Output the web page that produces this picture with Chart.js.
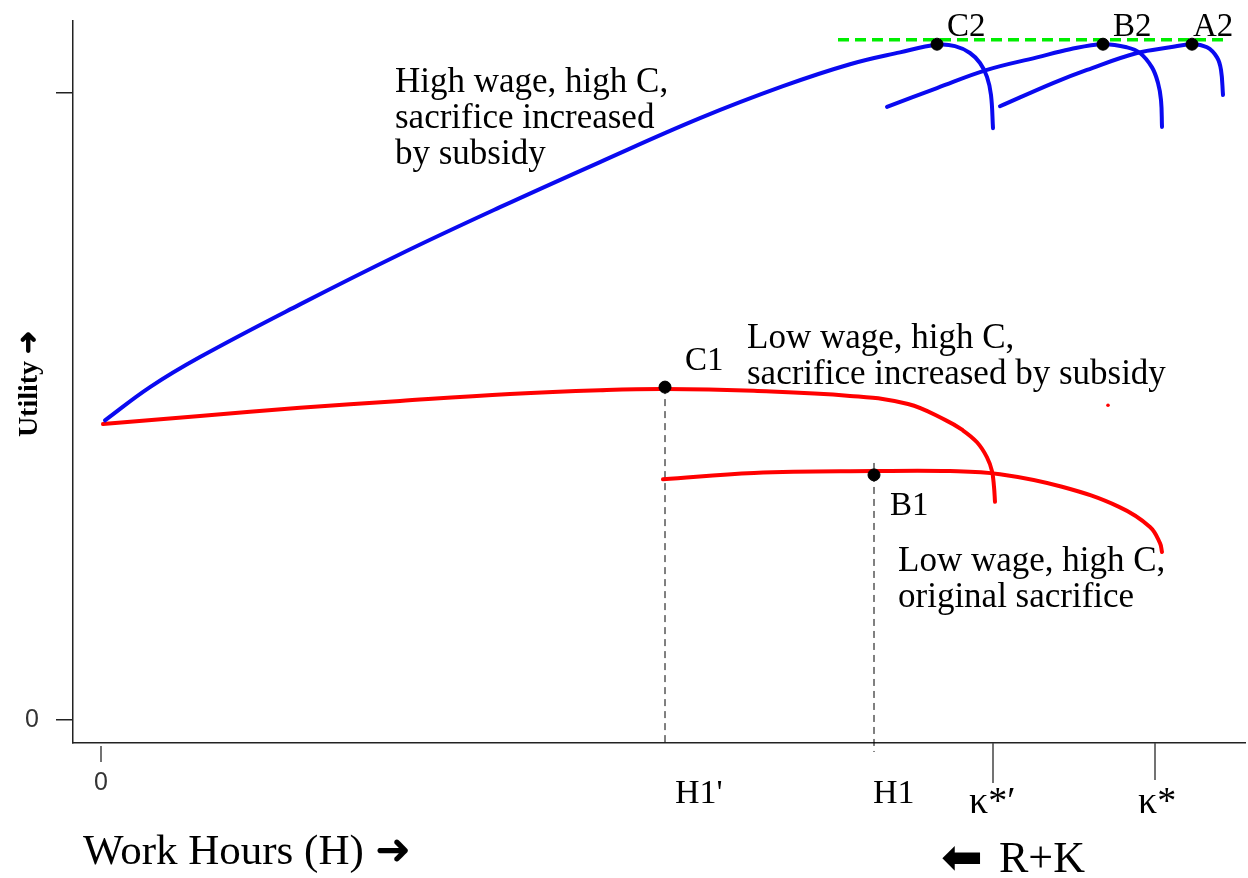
<!DOCTYPE html>
<html>
<head>
<meta charset="utf-8">
<script src="https://cdn.jsdelivr.net/npm/chart.js@4.4.1/dist/chart.umd.min.js"></script>
<style>
  html, body { margin: 0; padding: 0; background: #fff; }
</style>
</head>
<body>
<canvas id="chart" width="1248" height="878"></canvas>
<script>
// x = work hours, y = utility
const highC_x = [0.4, 4.9, 9.9, 19.9, 29.9, 39.9, 49.9, 59.9, 68.2, 74.9, 79.9, 83.6, 85.4, 86.9, 87.9, 88.6, 89.0, 89.2];
const highC_y = [47.8, 53.1, 57.9, 66.3, 74.3, 81.8, 89.0, 96.0, 101.1, 104.6, 106.5, 107.7, 107.5, 106.4, 104.8, 102.6, 99.7, 94.4];

const highB_x = [78.6, 83.6, 88.6, 93.6, 96.9, 100.2, 102.6, 103.9, 105.1, 105.7, 106.0, 106.1];
const highB_y = [97.8, 100.8, 103.7, 105.7, 107.0, 107.8, 107.3, 106.4, 104.1, 101.6, 98.9, 94.6];

const highA_x = [89.9, 95.2, 98.6, 103.6, 106.9, 109.1, 110.6, 111.6, 112.0, 112.2];
const highA_y = [97.9, 101.6, 103.7, 106.4, 107.3, 107.8, 107.3, 105.7, 103.7, 99.7];

const lowC_x = [0.2, 9.9, 19.9, 29.9, 40.9, 49.9, 56.4, 65.3, 74.9, 80.7, 84.5, 86.1, 87.6, 88.6, 89.1, 89.3, 89.4];
const lowC_y = [47.2, 48.5, 49.8, 50.9, 52.0, 52.6, 52.8, 52.5, 51.7, 50.4, 47.8, 46.3, 44.3, 41.9, 39.7, 37.2, 34.8];

const lowB_x = [56.2, 65.3, 77.3, 84.9, 89.9, 96.1, 101.8, 104.9, 105.9, 106.1];
const lowB_y = [38.4, 39.4, 39.7, 39.7, 39.2, 37.2, 34.0, 30.8, 28.2, 26.8];

const optimaLabels = ["C2", "B2", "A2", "C1", "B1"];
const optima_x = [83.6, 100.2, 109.1, 56.4, 77.3];
const optima_y = [107.8, 107.8, 107.8, 53.1, 39.1];

const topUtility_x = [73.7, 112.4];
const topUtility_y = [108.5, 108.5];

const xTickLabels = ["0", "H1'", "H1", "κ*′", "κ*"];
const xTickValues = [0, 56.4, 77.3, 89.2, 105.4];
const yTickLabels = ["0", ""];
const yTickValues = [0, 100];

const toPoints = (xs, ys) => xs.map((x, i) => ({ x: x, y: ys[i] }));

const serif = "'Liberation Serif', 'Times New Roman', serif";
const sans = "'Liberation Sans', Arial, sans-serif";

// text labels and custom x ticks
const labelPlugin = {
    id: 'labels',
    afterDraw(chart) {
        const ctx = chart.ctx;
        const xs = chart.scales.x, ys = chart.scales.y;
        const px = v => xs.getPixelForValue(v);
        const py = v => ys.getPixelForValue(v);
        ctx.save();
        ctx.fillStyle = '#000';
        ctx.textBaseline = 'alphabetic';

        // x ticks
        ctx.strokeStyle = '#444';
        ctx.lineWidth = 1.5;
        const bottom = chart.chartArea.bottom;
        const tickSpans = [[3, 19], null, null, [0, 40], [0, 37]];
        const labelOffsets = [[0, 47], [10, 60], [-1, 60], [-24, 70], [-17, 70]];
        xTickValues.forEach((v, i) => {
            const x = px(v);
            if (tickSpans[i]) {
                ctx.beginPath();
                ctx.moveTo(x, bottom + tickSpans[i][0]);
                ctx.lineTo(x, bottom + tickSpans[i][1]);
                ctx.stroke();
            }
            if (i === 0) {
                ctx.font = '25px ' + sans;
                ctx.textAlign = 'center';
                ctx.fillStyle = '#333';
            } else {
                ctx.font = (i >= 3 ? '38px ' : '34px ') + serif;
                ctx.textAlign = 'left';
                ctx.fillStyle = '#000';
            }
            ctx.fillText(xTickLabels[i], x + labelOffsets[i][0], bottom + labelOffsets[i][1]);
        });

        // point labels
        ctx.fillStyle = '#000';
        ctx.textAlign = 'left';
        ctx.font = '33px ' + serif;
        const pointOffsets = [[10, -8], [10, -8], [1, -8], [20, -17], [16, 40]];
        optimaLabels.forEach((t, i) => {
            ctx.fillText(t, px(optima_x[i]) + pointOffsets[i][0], py(optima_y[i]) + pointOffsets[i][1]);
        });

        // curve notes
        const note = (lines, x, y) => lines.forEach((l, i) => ctx.fillText(l, x, y + i * 36));
        ctx.font = '35px ' + serif;
        note(["High wage, high C,", "sacrifice increased", "by subsidy"], 395, 92);
        note(["Low wage, high C,", "sacrifice increased by subsidy"], 747, 348);
        note(["Low wage, high C,", "original sacrifice"], 898, 571);

        // axis titles
        ctx.font = '43px ' + serif;
        ctx.fillText("Work Hours (H) \u279C", 83, 864);
        ctx.font = '50px ' + serif;
        ctx.fillText("\u2B05", 941, 874);
        ctx.font = '44px ' + serif;
        ctx.fillText("R+K", 999, 872);

        ctx.translate(37, 384);
        ctx.rotate(-Math.PI / 2);
        ctx.textAlign = 'center';
        ctx.font = 'bold 28px ' + serif;
        ctx.fillText("Utility \u279C", 0, 0);
        ctx.restore();
    }
};

const curve = (xs, ys, color) => ({
    data: toPoints(xs, ys),
    borderColor: color,
    borderWidth: 4,
    pointRadius: 0,
    tension: 0.4,
    borderCapStyle: 'round',
    borderJoinStyle: 'round',
    fill: false,
    order: 2
});

const guide = (x, yTop, yBottom) => ({
    data: [{ x: x, y: yTop }, { x: x, y: yBottom }],
    borderColor: '#000',
    borderWidth: 1,
    borderDash: [7, 5],
    pointRadius: 0,
    tension: 0,
    clip: false,
    order: 5
});

new Chart(document.getElementById('chart'), {
    type: 'line',
    data: {
        datasets: [
            {
                type: 'scatter',
                data: toPoints(optima_x, optima_y),
                backgroundColor: '#000',
                borderColor: '#000',
                pointRadius: 6,
                order: 0
            },
            {
                data: toPoints(topUtility_x, topUtility_y),
                borderColor: '#00ee00',
                borderWidth: 3.5,
                borderDash: [11, 6],
                pointRadius: 0,
                tension: 0,
                order: 3
            },
            curve(highC_x, highC_y, '#0a0af0'),
            curve(highB_x, highB_y, '#0a0af0'),
            curve(highA_x, highA_y, '#0a0af0'),
            curve(lowC_x, lowC_y, '#ff0000'),
            curve(lowB_x, lowB_y, '#ff0000'),
            guide(optima_x[3], optima_y[3], -3.67),
            guide(optima_x[4], 41.0, -5.1),
            {
                type: 'scatter',
                data: [{ x: 100.7, y: 50.2 }],
                backgroundColor: '#ff0000',
                borderWidth: 0,
                pointRadius: 1.8,
                order: 1
            }
        ]
    },
    options: {
        responsive: false,
        animation: false,
        devicePixelRatio: 1,
        layout: { autoPadding: false, padding: { top: 21, right: 3, left: 0, bottom: 0 } },
        plugins: {
            legend: { display: false },
            tooltip: { enabled: false }
        },
        scales: {
            x: {
                type: 'linear',
                min: -2.8,
                max: 114.4,
                ticks: { display: false },
                grid: { display: false },
                border: { display: true, color: '#222', width: 1.5 },
                afterFit(scale) {
                    scale.height = 135;
                    scale.paddingLeft = 0;
                    scale.paddingRight = 0;
                }
            },
            y: {
                type: 'linear',
                min: -3.67,
                max: 111.5,
                afterBuildTicks(scale) {
                    scale.ticks = yTickValues.map(v => ({ value: v }));
                },
                ticks: {
                    callback: (v, i) => yTickLabels[i],
                    font: { family: sans, size: 25 },
                    color: '#333',
                    padding: 17,
                    autoSkip: false
                },
                grid: {
                    drawOnChartArea: false,
                    drawTicks: true,
                    tickLength: 17,
                    color: '#222',
                    lineWidth: 1.5
                },
                border: { display: true, color: '#222', width: 1.5 },
                afterFit(scale) {
                    scale.width = 73;
                    scale.paddingTop = 0;
                    scale.paddingBottom = 0;
                }
            }
        }
    },
    plugins: [labelPlugin]
});
</script>
</body>
</html>
